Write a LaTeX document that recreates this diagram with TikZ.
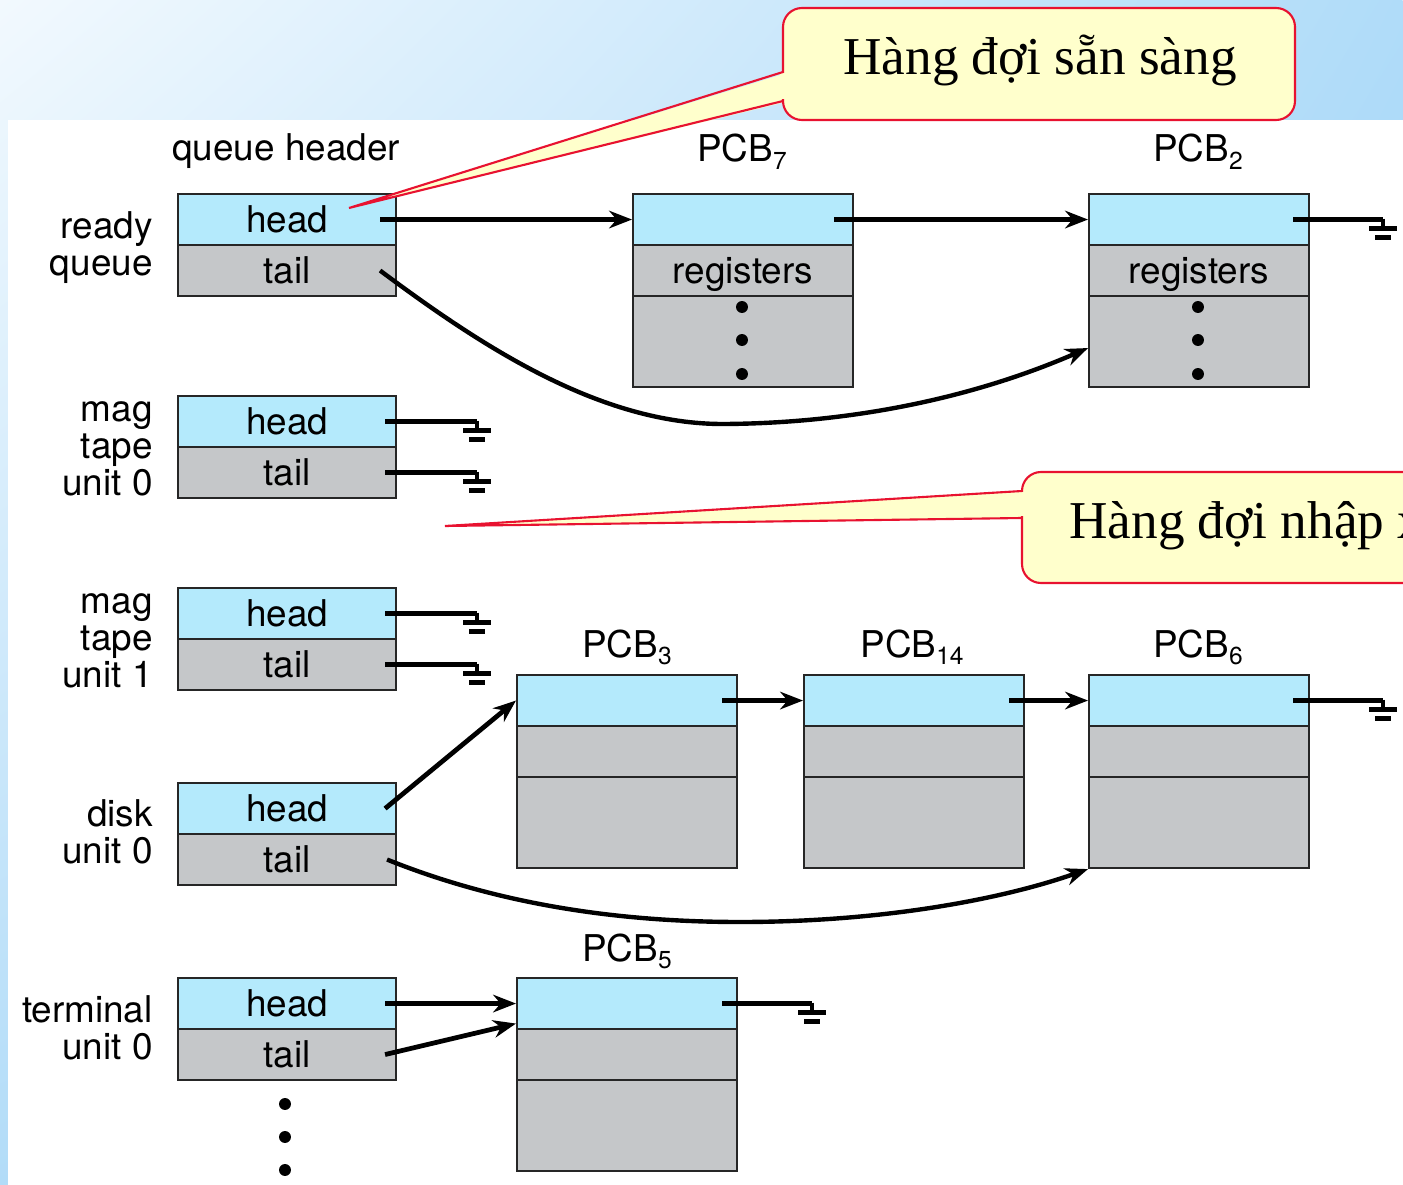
\documentclass[tikz,border=0pt]{standalone}
\usepackage{fontspec}
\setmainfont{TeX Gyre Heros}
\newfontfamily\vietfont{Liberation Serif}
\usetikzlibrary{arrows.meta,shadings}
\definecolor{cellblue}{RGB}{180,234,252}
\definecolor{cellgray}{RGB}{197,199,201}
\definecolor{callfill}{RGB}{255,255,204}
\definecolor{callred}{RGB}{232,18,48}
\definecolor{bgul}{RGB}{242,249,254}
\definecolor{bgur}{RGB}{176,220,249}
\definecolor{bgll}{RGB}{178,220,248}
\definecolor{bglr}{RGB}{150,205,245}
\newcommand\pcbsub[1]{\raisebox{-4pt}{\fontsize{14}{14}\selectfont #1}}
\begin{document}
\begin{tikzpicture}[x=0.02cm,y=-0.02cm,
  every node/.style={font=\fontsize{21}{21}\selectfont, inner sep=0pt},
  cell/.style={draw=black!85, line width=1.2pt, minimum height=1.02cm, anchor=north west, text height=15pt, text depth=0pt},
  bluecell/.style={cell, fill=cellblue},
  graycell/.style={cell, fill=cellgray},
  hdr/.style={minimum width=4.36cm},
  pcb/.style={minimum width=4.4cm},
  big/.style={minimum height=1.82cm},
  lab/.style={align=right, anchor=east},
  ttl/.style={anchor=base},
  link/.style={line width=2.7pt, -{Stealth[length=13pt,width=10pt]}},
  curvelink/.style={line width=2.5pt, -{Stealth[length=13pt,width=10pt]}},
  nil/.style={line width=2.7pt},
  dot/.style={fill=black},
  callbox/.style={fill=callfill, draw=callred, line width=1.2pt, rounded corners=0.38cm},
  callline/.style={draw=callred, line width=1.2pt},
  calltext/.style={font=\vietfont\fontsize{30.3}{31}\selectfont},
  gnd/.pic={
    \draw[line width=2.6pt] (0,-1) -- (0,9);
    \draw[line width=2.6pt] (-14,9) -- (14,9);
    \draw[line width=2.6pt] (-8,18) -- (8,18);
  }
]
\useasboundingbox (0,0) rectangle (1403,1185);
\clip (0,0) rectangle (1403,1185);
% slide background
\begin{scope}[x=1cm,y=1cm]
\shade[upper left=bgul, upper right=bgur, lower left=bgll, lower right=bglr]
  (0,0) rectangle (28.06,-23.7);
\end{scope}
\fill[white] (8,120) rectangle (1403,1185);

% titles
\node[ttl] (qh) at (286,161) {queue header};
\node[ttl] (t7) at (742,162) {PCB\pcbsub{7}};
\node[ttl] (t2) at (1198,162) {PCB\pcbsub{2}};
\node[ttl] (t3) at (627,657) {PCB\pcbsub{3}};
\node[ttl] (t14) at (912,657) {PCB\pcbsub{14}};
\node[ttl] (t6) at (1198,657) {PCB\pcbsub{6}};
\node[ttl] (t5) at (627,961) {PCB\pcbsub{5}};

% left labels
\node[lab] (lrq) at (153,248) {ready\\queue};
\node[lab] (lm0) at (153,449) {mag\\tape\\unit 0};
\node[lab] (lm1) at (153,641) {mag\\tape\\unit 1};
\node[lab] (ld0) at (153,832) {disk\\unit 0};
\node[lab] (lt0) at (153,1028) {terminal\\unit 0};

% queue headers
\node[bluecell,hdr] (rqh) at (177,193) {head};
\node[graycell,hdr] (rqt) at (177,244) {tail};
\node[bluecell,hdr] (m0h) at (177,395) {head};
\node[graycell,hdr] (m0t) at (177,446) {tail};
\node[bluecell,hdr] (m1h) at (177,587) {head};
\node[graycell,hdr] (m1t) at (177,638) {tail};
\node[bluecell,hdr] (dh) at (177,782) {head};
\node[graycell,hdr] (dt) at (177,833) {tail};
\node[bluecell,hdr] (th) at (177,977) {head};
\node[graycell,hdr] (tt) at (177,1028) {tail};

% PCBs
\node[bluecell,pcb] (p7a) at (632,193) {};
\node[graycell,pcb] (p7b) at (632,244) {registers};
\node[graycell,pcb,big] (p7c) at (632,295) {};
\node[bluecell,pcb] (p2a) at (1088,193) {};
\node[graycell,pcb] (p2b) at (1088,244) {registers};
\node[graycell,pcb,big] (p2c) at (1088,295) {};
\node[bluecell,pcb] (p3a) at (516,674) {};
\node[graycell,pcb] (p3b) at (516,725) {};
\node[graycell,pcb,big] (p3c) at (516,776) {};
\node[bluecell,pcb] (p14a) at (803,674) {};
\node[graycell,pcb] (p14b) at (803,725) {};
\node[graycell,pcb,big] (p14c) at (803,776) {};
\node[bluecell,pcb] (p6a) at (1088,674) {};
\node[graycell,pcb] (p6b) at (1088,725) {};
\node[graycell,pcb,big] (p6c) at (1088,776) {};
\node[bluecell,pcb] (p5a) at (516,977) {};
\node[graycell,pcb] (p5b) at (516,1028) {};
\node[graycell,pcb,big] (p5c) at (516,1079) {};

% dots
\foreach \yy in {307,340,374} {
  \fill[dot] (742,\yy) circle (3.4pt);
  \fill[dot] (1198,\yy) circle (3.4pt);
}
\foreach \yy in {1104,1137,1170} \fill[dot] (285,\yy) circle (3.4pt);

% links
\draw[link] ([xshift=-0.34cm]rqh.east) -- (p7a.west);
\draw[link] ([xshift=-0.4cm]p7a.east) -- (p2a.west);
\draw[nil] ([xshift=-0.34cm]p2a.east) -- ++(90,0) coordinate (g2);
\draw[curvelink] ([xshift=-0.34cm]rqt.east) .. controls (480,345) and (600,425) .. (725,424)
   .. controls (860,423) and (980,395) .. ([yshift=-0.13cm]p2c.west);
\draw[nil] ([xshift=-0.24cm]m0h.east) -- ++(92,0) coordinate (gm0h);
\draw[nil] ([xshift=-0.24cm]m0t.east) -- ++(92,0) coordinate (gm0t);
\draw[nil] ([xshift=-0.24cm]m1h.east) -- ++(92,0) coordinate (gm1h);
\draw[nil] ([xshift=-0.24cm]m1t.east) -- ++(92,0) coordinate (gm1t);
\draw[link] ([xshift=-0.24cm]dh.east) -- (p3a.west);
\draw[curvelink] ([xshift=-0.2cm]dt.east) .. controls (500,905) and (620,922) .. (740,922)
   .. controls (880,922) and (1000,900) .. (p6c.south west);
\draw[link] ([xshift=-0.32cm]p3a.east) -- (p14a.west);
\draw[link] ([xshift=-0.32cm]p14a.east) -- (p6a.west);
\draw[nil] ([xshift=-0.34cm]p6a.east) -- ++(90,0) coordinate (g6);
\draw[link] ([xshift=-0.24cm]th.east) -- (p5a.west);
\draw[link] ([xshift=-0.24cm]tt.east) -- ([yshift=-0.4cm]p5a.west);
\draw[nil] ([xshift=-0.32cm]p5a.east) -- ++(90,0) coordinate (g5);
\foreach \g in {g2,gm0h,gm0t,gm1h,gm1t,g6,g5} \pic at (\g) {gnd};

% callout 1
\fill[callfill] (349,208) -- (790,72) -- (790,101) -- cycle;
\path[callbox] (783,8) rectangle (1295,120);
\fill[callfill] (780,73.5) rectangle (787,99.5);
\draw[callline] (783,72) -- (349,208) -- (783,101);
\node[calltext, anchor=base] (c1) at (1040,75) {Hàng đợi sẵn sàng};
% callout 2
\fill[callfill] (445,526) -- (1029,491) -- (1029,518) -- cycle;
\path[callbox] (1022,472) rectangle (1460,583);
\fill[callfill] (1019,492.5) rectangle (1026,516.5);
\draw[callline] (1022,491) -- (445,526) -- (1022,518);
\node[calltext, anchor=base west] (c2) at (1069,539) {Hàng đợi nhập xuất};
\end{tikzpicture}
\end{document}
